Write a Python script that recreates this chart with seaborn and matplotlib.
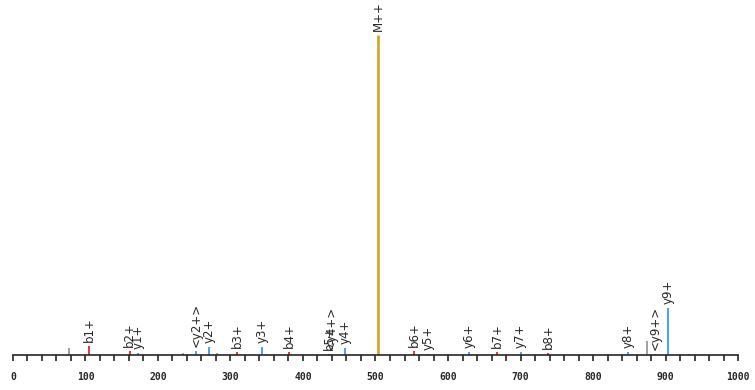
import pandas as pd
import seaborn as sns
import matplotlib.pyplot as plt

# peak list (relative intensity, M++ = 100)
mz = [77, 105, 161, 173, 234, 253, 271, 281, 309, 343, 350, 381, 436, 439, 458,
      497, 504, 553, 563, 572, 629, 668, 700, 738, 848, 875, 886, 903, 933]
intensity = [2.2, 2.8, 1.2, 0.6, 0.6, 1.2, 2.5, 0.6, 1.0, 2.5, 0.4, 1.0, 0.3, 0.3, 2.2,
             0.4, 100, 1.2, 0.4, 0.3, 1.0, 1.0, 1.0, 0.7, 1.0, 4.4, 0.3, 14.7, 0.4]
ion = ["other", "b", "b", "y", "other", "y", "y", "other", "b", "y", "other", "b", "b", "y", "y",
       "other", "M", "b", "other", "y", "y", "b", "y", "b", "y", "other", "y", "y", "other"]
label = ["", "b1+", "b2+", "y1+", "", "<y2+>", "y2+", "", "b3+", "y3+", "", "b4+", "b5+", "<y4+>", "y4+",
         "", "M++", "b6+", "", "y5+", "y6+", "b7+", "y7+", "b8+", "y8+", "", "<y9+>", "y9+", ""]

colors = {"b": "#ee2222", "y": "#3399ff", "M": "#d4a62a", "other": "#999999"}

df = pd.DataFrame({"mz": mz, "intensity": intensity, "ion": ion, "label": label})

sns.set_style("white")
fig = plt.figure(figsize=(7.55, 3.9), dpi=100)
ax = fig.add_axes([0.0172, 0.0897, 0.9603, 0.8205])

for kind, grp in df.groupby("ion"):
    ax.vlines(grp["mz"], 0, grp["intensity"], color=colors[kind],
              linewidth=2 if kind == "M" else 1.3)

for _, row in df.iterrows():
    if row["label"]:
        ax.annotate(row["label"], (row["mz"], row["intensity"]), xytext=(0, 3),
                    textcoords="offset points", rotation=90, ha="center", va="bottom",
                    fontsize=8.5, family="DejaVu Sans", annotation_clip=False)

ax.set_xlim(0, 1000)
ax.set_ylim(0, 100)
ax.set_xticks(range(0, 1001, 100))
ax.set_xticks(range(0, 1001, 20), minor=True)
ax.set_yticks([])
sns.despine(ax=ax, left=True)
ax.spines["bottom"].set_linewidth(1.2)
ax.tick_params(axis="x", which="both", direction="out", length=4, width=1.2,
               bottom=True, pad=8, labelsize=7)
for t in ax.get_xticklabels():
    t.set_family("DejaVu Sans Mono")
    t.set_fontweight("bold")

fig.savefig("out.png", dpi=100)
